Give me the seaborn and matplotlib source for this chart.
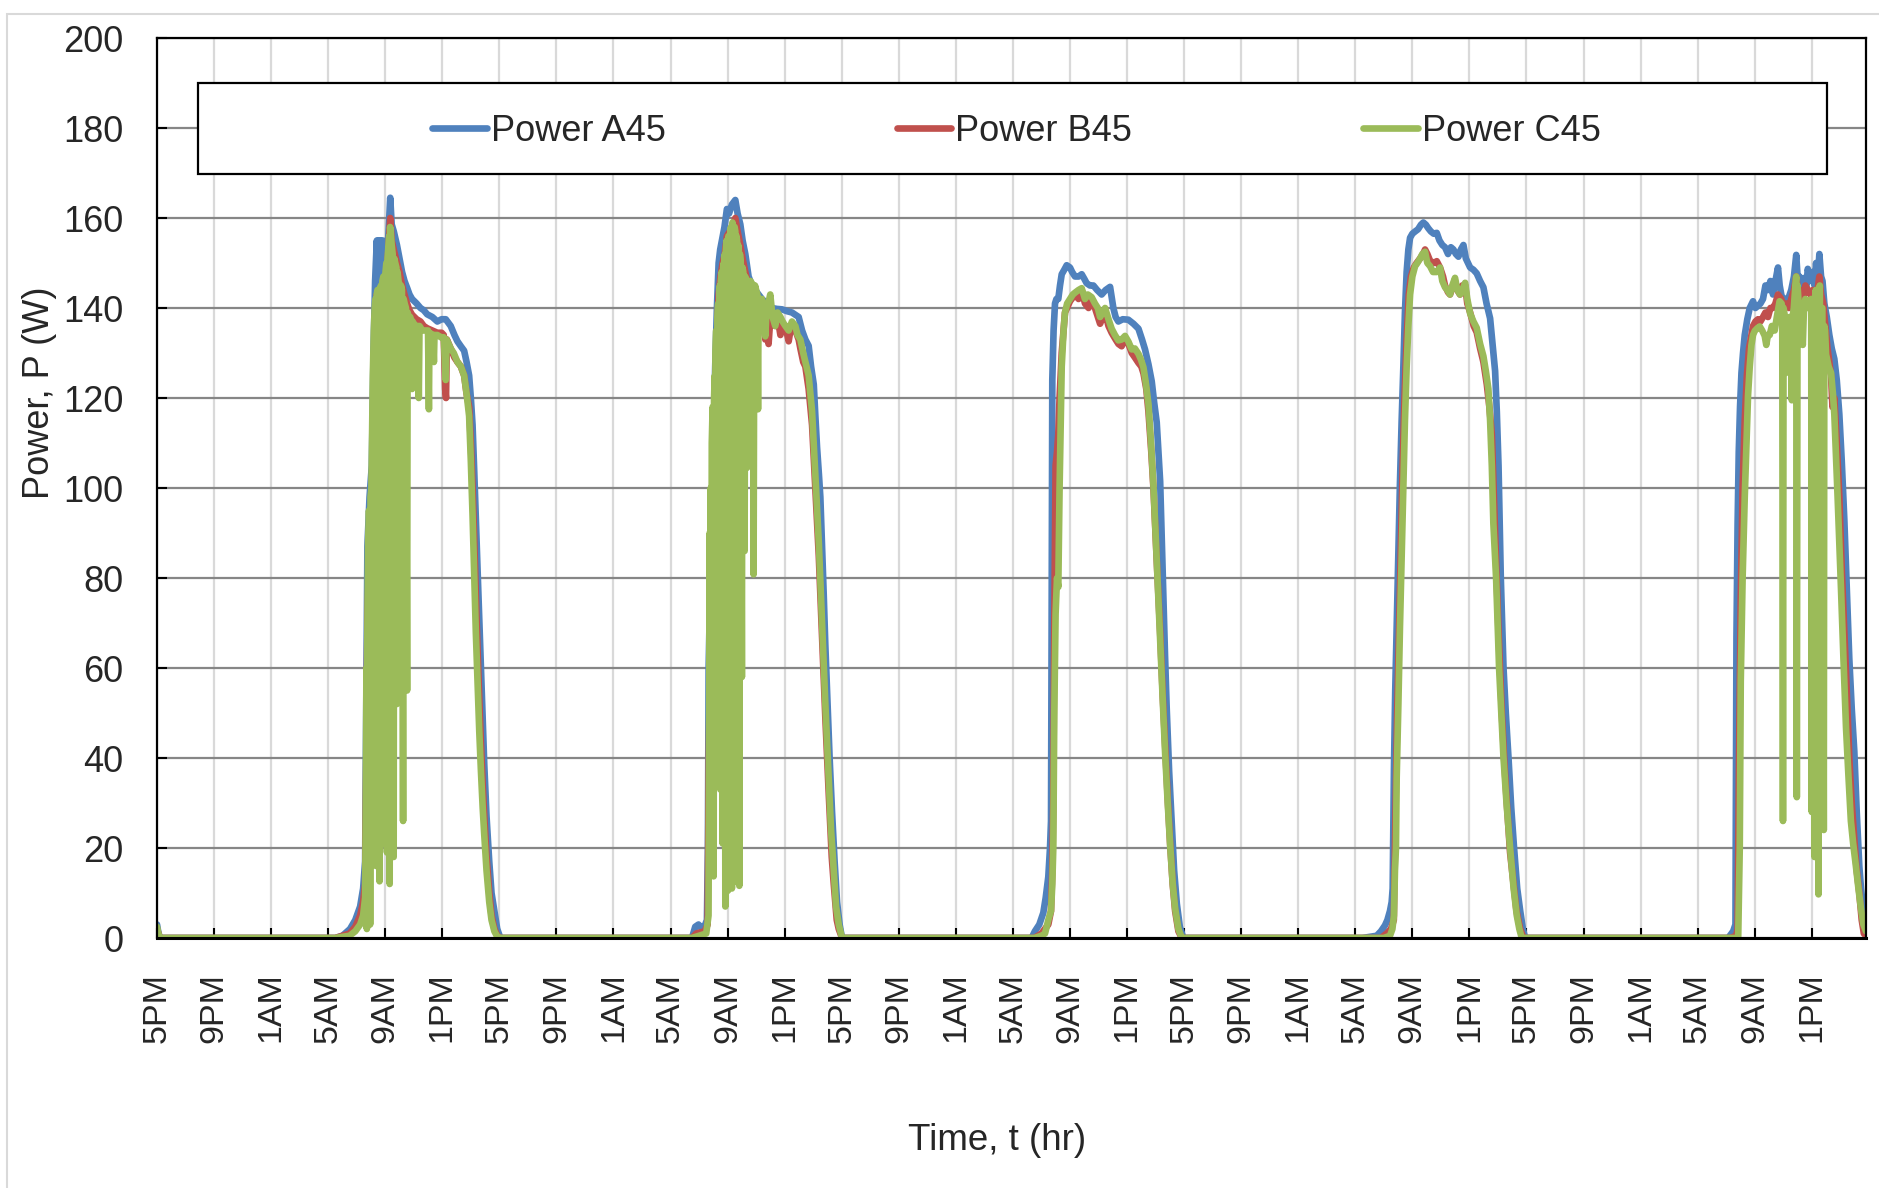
import matplotlib
matplotlib.use("Agg")
import matplotlib.pyplot as plt
from matplotlib.lines import Line2D
from matplotlib.patches import Rectangle
import numpy as np
import pandas as pd
import seaborn as sns

# ---------------------------------------------------------------------------
# Measured panel power, three panels (A, B, C at 45 deg).
# Each list holds (clock hour, watts) readings for one day; day 0 is the
# evening the record starts on (5 PM), days 1-5 follow.
# ---------------------------------------------------------------------------
series_names = ["Power A45", "Power B45", "Power C45"]
series_colors = ["#4F81BD", "#C0504D", "#9BBB59"]

eve_a = [(17.0, 3), (17.08, 1.5), (17.2, 0)]
eve_b = [(17.0, 2), (17.2, 0)]
eve_c = [(17.0, 2.5), (17.1, 1), (17.2, 0)]

day1_a = [(5.5, 0), (6.0, 0.5), (6.53, 2), (6.9, 4), (7.24, 7), (7.45, 11), (7.59, 17), (7.66, 47),
          (7.75, 87), (7.9, 98), (8.06, 105), (8.18, 130), (8.29, 146), (8.41, 155), (8.47, 138),
          (8.53, 155), (8.6, 140), (8.66, 155), (8.72, 142), (8.8, 155), (8.84, 155), (8.95, 150),
          (9.05, 147), (9.2, 155), (9.35, 164.5), (9.45, 158.6), (9.6, 157), (9.82, 154), (10.0, 151),
          (10.18, 148), (10.35, 146), (10.53, 144.5), (10.7, 143), (10.88, 142), (11.2, 141),
          (11.47, 140), (11.7, 139.5), (11.94, 138.6), (12.3, 138), (12.65, 137), (12.95, 137.5),
          (13.24, 137.5), (13.59, 136), (13.85, 134), (14.06, 132.6), (14.3, 131.5), (14.53, 130.5),
          (14.7, 128), (14.88, 125), (15.0, 120), (15.12, 114), (15.24, 103.5), (15.35, 93),
          (15.47, 82), (15.59, 71), (15.71, 60), (15.83, 49), (15.94, 38.6), (16.1, 27), (16.29, 17),
          (16.45, 10), (16.65, 6), (16.85, 2), (17.07, 0)]
day1_b = [(5.5, 0), (6.5, 1), (6.9, 2.5), (7.24, 5), (7.45, 8), (7.59, 12), (7.66, 35), (7.75, 70),
          (7.9, 88), (8.06, 98), (8.18, 120), (8.29, 138), (8.41, 143), (8.6, 144), (8.84, 145),
          (8.95, 145), (9.05, 146), (9.2, 152), (9.35, 160), (9.45, 155), (9.6, 153), (9.82, 150),
          (10.0, 148), (10.18, 145), (10.35, 143), (10.53, 141), (10.7, 139.5), (10.88, 138.5),
          (11.2, 137.5), (11.47, 137), (11.7, 136), (11.94, 135.5), (12.3, 135), (12.65, 134.5),
          (12.95, 134.5), (13.1, 134), (13.2, 122), (13.26, 120), (13.32, 133), (13.59, 131),
          (13.85, 129), (14.06, 128), (14.3, 127), (14.53, 125), (14.7, 121), (14.88, 118),
          (15.0, 110), (15.12, 100), (15.24, 88), (15.35, 76), (15.47, 64), (15.59, 53), (15.71, 43),
          (15.83, 34), (15.94, 27), (16.1, 18), (16.29, 10), (16.45, 5), (16.65, 2), (16.85, 0.5),
          (17.07, 0)]
day1_c = [(5.5, 0), (6.5, 0.5), (6.9, 1.5), (7.24, 3), (7.45, 5), (7.59, 9), (7.64, 30), (7.68, 60),
          (7.71, 2), (7.74, 65), (7.8, 88), (7.86, 95), (7.91, 90), (7.94, 3), (7.97, 98), (8.03, 100),
          (8.08, 112), (8.13, 125), (8.2, 135), (8.26, 140), (8.31, 142), (8.36, 16), (8.4, 143),
          (8.46, 144), (8.52, 140), (8.57, 143), (8.6, 12.6), (8.63, 144), (8.7, 145), (8.76, 21),
          (8.8, 146), (8.87, 147), (8.95, 145), (9.02, 148), (9.08, 150), (9.12, 19), (9.16, 151),
          (9.23, 154), (9.28, 156), (9.31, 12), (9.34, 158), (9.38, 157), (9.45, 154), (9.52, 152),
          (9.59, 18), (9.63, 151), (9.7, 150), (9.78, 149), (9.82, 52), (9.86, 148), (9.93, 146),
          (10.0, 145), (10.06, 60), (10.1, 145), (10.17, 144), (10.25, 26), (10.29, 142),
          (10.36, 141), (10.45, 140), (10.53, 55), (10.57, 139), (10.65, 138), (10.75, 138),
          (10.85, 137), (10.88, 122), (10.92, 137), (11.1, 136), (11.3, 136), (11.35, 120),
          (11.4, 136), (11.6, 135), (11.8, 135), (12.0, 135), (12.06, 117.5), (12.1, 134.5),
          (12.35, 134), (12.41, 128), (12.45, 134), (12.65, 134), (12.9, 133.5), (13.1, 133.5),
          (13.24, 124), (13.3, 133), (13.45, 132), (13.59, 131), (13.8, 130), (14.06, 128),
          (14.3, 127), (14.53, 125), (14.7, 121), (14.88, 116), (15.0, 106), (15.12, 94), (15.24, 80),
          (15.35, 68), (15.47, 57), (15.59, 46), (15.71, 37), (15.83, 29), (15.94, 23), (16.1, 15),
          (16.29, 8), (16.45, 4), (16.65, 1.5), (16.85, 0.3), (17.07, 0)]

day2_a = [(5.5, 0), (6.5, 0), (6.73, 2.5), (6.96, 3), (7.2, 2), (7.43, 3), (7.55, 4), (7.62, 20),
          (7.67, 60), (7.78, 78), (7.9, 90.5), (8.02, 110), (8.13, 127), (8.25, 140), (8.37, 150),
          (8.48, 153), (8.6, 155), (8.78, 158), (8.95, 162), (9.1, 161), (9.3, 163), (9.54, 164),
          (9.7, 161), (9.89, 158.6), (10.05, 155), (10.24, 152), (10.47, 147), (10.71, 145),
          (11.05, 143.5), (11.41, 142), (11.75, 141), (12.11, 140), (12.45, 139.8), (12.81, 139.7),
          (13.15, 139.3), (13.51, 139), (13.75, 138.5), (13.98, 138), (14.22, 135), (14.45, 133),
          (14.68, 131.6), (14.85, 127), (15.04, 123), (15.15, 116), (15.27, 109), (15.4, 103),
          (15.5, 98), (15.62, 87), (15.74, 76), (15.85, 65), (15.97, 55), (16.15, 40), (16.32, 28),
          (16.5, 17), (16.67, 8), (16.85, 3), (17.02, 0)]
day2_b = [(5.5, 0), (6.5, 0), (6.8, 1), (7.4, 1.5), (7.6, 3), (7.68, 40), (7.78, 65), (7.9, 85),
          (8.02, 105), (8.13, 120), (8.25, 133), (8.37, 143), (8.5, 147), (8.65, 150), (8.8, 152),
          (8.95, 156), (9.15, 157), (9.35, 158), (9.54, 160), (9.7, 157), (9.89, 154), (10.05, 151),
          (10.24, 148), (10.47, 145), (10.71, 143), (10.82, 120), (10.9, 143), (11.13, 141),
          (11.41, 140), (11.64, 133), (11.75, 138), (11.87, 132), (12.0, 138), (12.34, 136),
          (12.55, 137), (12.7, 134), (12.85, 136), (13.05, 136), (13.28, 132.6), (13.4, 135),
          (13.51, 136), (13.75, 135), (13.98, 133), (14.1, 131), (14.3, 128), (14.45, 127),
          (14.68, 122), (14.92, 114), (15.15, 100), (15.39, 85), (15.62, 67), (15.85, 49),
          (16.09, 32), (16.3, 18), (16.44, 12), (16.65, 4), (16.79, 2), (17.02, 0)]
day2_c = [(5.5, 0), (6.5, 0), (7.0, 0.5), (7.5, 1), (7.66, 5), (7.7, 40), (7.74, 90), (7.78, 60),
          (7.82, 100), (7.85, 30), (7.89, 110), (7.95, 118), (8.0, 60), (8.02, 13.7), (8.05, 120),
          (8.1, 125), (8.12, 55), (8.15, 130), (8.2, 135), (8.25, 43), (8.29, 138), (8.34, 141),
          (8.38, 60), (8.42, 143), (8.46, 145), (8.49, 33), (8.53, 146), (8.58, 148), (8.62, 120),
          (8.65, 21), (8.69, 149), (8.73, 150), (8.75, 40), (8.78, 151), (8.81, 152), (8.84, 7),
          (8.88, 153), (8.93, 155), (8.97, 150), (9.02, 10.5), (9.06, 156), (9.11, 155), (9.15, 50),
          (9.19, 157), (9.24, 158), (9.3, 11), (9.34, 159), (9.38, 158), (9.45, 35), (9.49, 158),
          (9.54, 157), (9.58, 12.6), (9.62, 156), (9.66, 155), (9.7, 60), (9.74, 154), (9.78, 153),
          (9.82, 11.6), (9.86, 152), (9.92, 150), (10.0, 58), (10.04, 149), (10.1, 148), (10.19, 86),
          (10.23, 147), (10.3, 146), (10.36, 104.5), (10.4, 146), (10.5, 146), (10.6, 146),
          (10.7, 145.5), (10.78, 145), (10.82, 80.8), (10.86, 130), (10.92, 145), (11.0, 144),
          (11.08, 143), (11.13, 117.5), (11.17, 142), (11.3, 142), (11.41, 142), (11.55, 138),
          (11.64, 133.7), (11.72, 139), (11.85, 141), (11.99, 143), (12.15, 138), (12.34, 136),
          (12.5, 139), (12.7, 138), (12.85, 137), (13.05, 136), (13.28, 135), (13.51, 137),
          (13.75, 136), (13.9, 134), (14.1, 133), (14.3, 130), (14.45, 128), (14.68, 125),
          (14.92, 117), (15.15, 103), (15.39, 88), (15.62, 70), (15.85, 52), (16.09, 35),
          (16.25, 24), (16.44, 15), (16.6, 7), (16.79, 3), (17.02, 0)]

day3_a = [(5.5, 0), (6.31, 0), (6.54, 1.5), (6.85, 3), (7.13, 5.6), (7.3, 9), (7.48, 13.6), (7.6, 20),
          (7.67, 26), (7.71, 66), (7.76, 124), (7.85, 135), (7.95, 141), (8.05, 142), (8.18, 142),
          (8.3, 145), (8.42, 147.5), (8.6, 148.5), (8.77, 149.5), (9.0, 149), (9.15, 148),
          (9.35, 147), (9.6, 147), (9.82, 147.5), (10.0, 146.5), (10.17, 145.5), (10.4, 145),
          (10.64, 145), (10.9, 144), (11.22, 143), (11.5, 144), (11.81, 144.7), (12.04, 140),
          (12.2, 138), (12.39, 137), (12.7, 137.5), (13.09, 137.4), (13.45, 136.5), (13.8, 135.4),
          (14.05, 133), (14.26, 130.8), (14.5, 127.5), (14.73, 123.7), (14.9, 119), (15.08, 114.6),
          (15.2, 108), (15.32, 101.5), (15.43, 89), (15.55, 76), (15.66, 63), (15.78, 51),
          (15.95, 37), (16.13, 25.8), (16.3, 15), (16.49, 7.6), (16.7, 2.5), (16.95, 0)]
day3_b = [(5.5, 0), (6.5, 0), (7.0, 1), (7.48, 3), (7.67, 6), (7.76, 15), (7.83, 30), (7.9, 70),
          (7.99, 105), (8.09, 108), (8.18, 112), (8.27, 120), (8.42, 130), (8.65, 139), (9.0, 141.5),
          (9.35, 143), (9.6, 142), (9.82, 144), (10.05, 141), (10.3, 140), (10.52, 142), (10.75, 140),
          (11.11, 136.5), (11.3, 138), (11.46, 139), (11.7, 136), (11.92, 134.5), (12.2, 133),
          (12.4, 132), (12.62, 131.5), (12.86, 133), (13.1, 132), (13.33, 130), (13.55, 129),
          (13.8, 127.8), (14.0, 127), (14.15, 125.5), (14.35, 122), (14.5, 117), (14.7, 108),
          (14.85, 100), (15.08, 84), (15.32, 68), (15.5, 54), (15.67, 43), (15.85, 31), (16.02, 21),
          (16.2, 12), (16.37, 6), (16.6, 1.5), (16.84, 0)]
day3_c = [(5.5, 0), (6.5, 0), (7.0, 0.5), (7.25, 1), (7.48, 4), (7.67, 6), (7.76, 12), (7.83, 20),
          (7.9, 50), (7.99, 72), (8.09, 80), (8.18, 78), (8.27, 100), (8.35, 115), (8.42, 127),
          (8.55, 135), (8.65, 139), (8.8, 141), (9.0, 142), (9.2, 143), (9.35, 143.4), (9.6, 144),
          (9.82, 144.4), (10.05, 142), (10.25, 143), (10.52, 142.4), (10.75, 141), (10.95, 140),
          (11.11, 138), (11.3, 139), (11.46, 140), (11.7, 137.5), (11.92, 135.4), (12.15, 134),
          (12.39, 132.8), (12.62, 133), (12.86, 133.8), (13.1, 132.5), (13.33, 130.8), (13.55, 131),
          (13.8, 129.8), (13.98, 128.5), (14.15, 126.8), (14.33, 123), (14.5, 118.7), (14.68, 110),
          (14.85, 100.5), (14.97, 92), (15.08, 84), (15.2, 75), (15.32, 66), (15.5, 53), (15.67, 41),
          (15.85, 30), (16.02, 20.7), (16.2, 12), (16.37, 6.6), (16.6, 2), (16.84, 0)]

day4_a = [(5.5, 0), (6.5, 0.5), (6.8, 1.5), (7.08, 2.8), (7.25, 4), (7.43, 6), (7.55, 8), (7.62, 11),
          (7.71, 37.6), (7.8, 55), (7.9, 69), (8.02, 85), (8.13, 101), (8.25, 115), (8.37, 127),
          (8.48, 139), (8.6, 148), (8.72, 153), (8.84, 155.6), (9.0, 156.5), (9.19, 157),
          (9.4, 157.5), (9.6, 158.5), (9.77, 159), (9.95, 158.5), (10.12, 157.7), (10.3, 157),
          (10.5, 156.5), (10.71, 156.7), (10.9, 155), (11.1, 154), (11.29, 153.5), (11.5, 152),
          (11.7, 153.5), (11.88, 153), (12.05, 152), (12.23, 151.4), (12.4, 153), (12.58, 154),
          (12.75, 151), (12.9, 150), (13.05, 149), (13.28, 148.5), (13.51, 147.7), (13.75, 146),
          (13.98, 144.6), (14.2, 141), (14.45, 137.7), (14.62, 132), (14.8, 126), (14.92, 117),
          (15.04, 105), (15.2, 80), (15.39, 60), (15.55, 50), (15.74, 40), (15.93, 29), (16.13, 20),
          (16.35, 11), (16.56, 6), (16.75, 2), (16.91, 0)]
day4_b = [(5.5, 0), (6.8, 0), (7.2, 1), (7.5, 2), (7.7, 4), (7.78, 20), (7.85, 34), (7.95, 52),
          (8.08, 70), (8.2, 88), (8.32, 105), (8.45, 120), (8.6, 133), (8.75, 143), (8.9, 147),
          (9.1, 149), (9.3, 150), (9.54, 151), (9.75, 152), (9.89, 153), (10.05, 152), (10.24, 150.5),
          (10.5, 150), (10.71, 150.4), (10.94, 149), (11.15, 147), (11.29, 145), (11.5, 143.5),
          (11.64, 143), (11.85, 145), (11.99, 146), (12.15, 144), (12.34, 143), (12.5, 145),
          (12.7, 145), (12.85, 141), (13.05, 139), (13.3, 136), (13.51, 134.6), (13.75, 131),
          (13.98, 128), (14.22, 123), (14.4, 118), (14.57, 112), (14.8, 90), (15.04, 68),
          (15.27, 50), (15.45, 39), (15.62, 30), (15.85, 19), (16.09, 12), (16.3, 6), (16.56, 2),
          (16.79, 0)]
day4_c = [(5.5, 0), (7.0, 0), (7.43, 0.5), (7.6, 2), (7.71, 5), (7.78, 15), (7.85, 20), (7.9, 35.5),
          (8.02, 52), (8.13, 69), (8.25, 85), (8.37, 101), (8.48, 115), (8.6, 127), (8.72, 136),
          (8.84, 143), (9.0, 147), (9.19, 149.3), (9.35, 150), (9.54, 151), (9.7, 152),
          (9.89, 152.5), (10.05, 150), (10.24, 149.3), (10.45, 148), (10.71, 148), (10.94, 149),
          (11.1, 146), (11.29, 144.6), (11.45, 144), (11.64, 143), (11.8, 145), (11.99, 146.7),
          (12.15, 144), (12.34, 143), (12.5, 144), (12.7, 145.6), (12.85, 142), (13.05, 138.8),
          (13.28, 137), (13.51, 135.6), (13.75, 132), (13.98, 129.3), (14.15, 126), (14.33, 122),
          (14.45, 115), (14.57, 105), (14.68, 92), (14.87, 80), (15.08, 60), (15.25, 49),
          (15.39, 40), (15.6, 30), (15.85, 20), (16.1, 11), (16.32, 5), (16.5, 2), (16.67, 0)]

day5_a = [(5.5, 0), (7.14, 0), (7.49, 1.5), (7.65, 3), (7.72, 67), (7.8, 92), (7.88, 108), (7.97, 118),
          (8.07, 125.6), (8.18, 130), (8.3, 134), (8.48, 137.5), (8.65, 140), (8.88, 141.5),
          (9.05, 140), (9.23, 140.5), (9.4, 141), (9.58, 142), (9.75, 145), (9.93, 144), (10.1, 146),
          (10.28, 143), (10.45, 146), (10.63, 149), (10.75, 145), (10.86, 143), (11.05, 141),
          (11.21, 142), (11.4, 142.5), (11.56, 144), (11.75, 147), (11.91, 151.8), (12.02, 146),
          (12.14, 147), (12.3, 145), (12.49, 146.7), (12.6, 144), (12.72, 148.7), (12.9, 146),
          (13.07, 148), (13.2, 145), (13.3, 150), (13.42, 146), (13.53, 152), (13.65, 147),
          (13.75, 146), (13.88, 141), (14.05, 138), (14.23, 134), (14.4, 131), (14.58, 128.7),
          (14.75, 124), (14.93, 116.4), (15.1, 106), (15.28, 93), (15.45, 78), (15.63, 62),
          (15.8, 51), (15.98, 41.5), (16.15, 28), (16.33, 16), (16.45, 11), (16.56, 7.7),
          (16.7, 4), (16.8, 2.6)]
day5_b = [(5.5, 0), (7.3, 0), (7.7, 0.5), (7.8, 2), (7.9, 40), (8.02, 75), (8.15, 100), (8.3, 115),
          (8.45, 125), (8.6, 131), (8.77, 134), (8.88, 136), (9.05, 137), (9.23, 137.5), (9.4, 137),
          (9.58, 138), (9.75, 139), (9.93, 138), (10.1, 140), (10.28, 140), (10.45, 141),
          (10.63, 143), (10.86, 142), (11.05, 140), (11.21, 141), (11.4, 140), (11.56, 142),
          (11.75, 144), (11.91, 147), (12.05, 143), (12.2, 144), (12.4, 142), (12.55, 145),
          (12.72, 144), (12.9, 143), (13.07, 144), (13.25, 142), (13.4, 144), (13.53, 147),
          (13.65, 143), (13.8, 141), (13.95, 136), (14.1, 131), (14.23, 128), (14.35, 125),
          (14.45, 118), (14.58, 120), (14.75, 110), (14.93, 98), (15.1, 82), (15.28, 68),
          (15.45, 55), (15.63, 40), (15.8, 30), (15.98, 22), (16.15, 15), (16.33, 10), (16.5, 4),
          (16.65, 1), (16.8, 0.5)]
day5_c = [(5.5, 0), (7.5, 0), (7.84, 0), (7.95, 20), (8.02, 57), (8.15, 80), (8.3, 98), (8.42, 110),
          (8.53, 120.5), (8.65, 127), (8.77, 131.8), (8.88, 134), (9.0, 134.9), (9.18, 135.5),
          (9.35, 135.9), (9.52, 135), (9.7, 133.8), (9.81, 131.8), (9.92, 134), (10.05, 134),
          (10.2, 136), (10.4, 135), (10.55, 138), (10.74, 141.5), (10.88, 141), (10.93, 140),
          (10.98, 26), (11.02, 140), (11.12, 138), (11.21, 125.6), (11.3, 137), (11.44, 138),
          (11.52, 136), (11.6, 119.5), (11.66, 138), (11.74, 140), (11.85, 145), (11.91, 147),
          (11.95, 31.3), (12.0, 145), (12.1, 140), (12.22, 138), (12.37, 131.8), (12.45, 140),
          (12.55, 142), (12.72, 140), (12.85, 141), (12.96, 142), (13.0, 28), (13.04, 138),
          (13.09, 140), (13.14, 142), (13.19, 18), (13.23, 140), (13.28, 144), (13.33, 140),
          (13.37, 30), (13.41, 138), (13.44, 142), (13.47, 9.7), (13.51, 140), (13.56, 145),
          (13.6, 120), (13.65, 40), (13.69, 140), (13.74, 140), (13.79, 100), (13.84, 24),
          (13.88, 136), (13.93, 135), (14.0, 129.7), (14.18, 127), (14.35, 125.6), (14.48, 121),
          (14.58, 116.4), (14.7, 107), (14.81, 98), (14.93, 88), (15.05, 77.4), (15.22, 62),
          (15.4, 46.7), (15.57, 36), (15.74, 26), (15.9, 21), (16.09, 16), (16.27, 11),
          (16.44, 6.7), (16.62, 3), (16.8, 1.5)]

tick_hours = list(range(0, 117, 4))
tick_labels = ["5PM", "9PM", "1AM", "5AM", "9AM", "1PM"] * 5

# ---------------------------------------------------------------------------
# Long-format table: elapsed hours since 5 PM on the first evening
# ---------------------------------------------------------------------------
days_per_series = {
    "Power A45": [eve_a, day1_a, day2_a, day3_a, day4_a, day5_a],
    "Power B45": [eve_b, day1_b, day2_b, day3_b, day4_b, day5_b],
    "Power C45": [eve_c, day1_c, day2_c, day3_c, day4_c, day5_c],
}
rows = []
for name in series_names:
    for day, readings in enumerate(days_per_series[name]):
        for clock, watts in readings:
            rows.append((24 * day + clock - 17.0, watts, name))
df = pd.DataFrame(rows, columns=["Time", "Power", "Series"])

# ---------------------------------------------------------------------------
# Figure
# ---------------------------------------------------------------------------
sns.set_style("white")
plt.rcParams["font.family"] = ["Liberation Sans", "DejaVu Sans"]

W, H = 1879, 1188
LW = 4.8
fig = plt.figure(figsize=(W / 100, H / 100), dpi=100)
fig.patch.set_facecolor("white")
ax = fig.add_axes([157 / W, 1 - 938 / H, 1709 / W, 900 / H])

sns.lineplot(data=df, x="Time", y="Power", hue="Series", hue_order=series_names,
             palette=series_colors, estimator=None, sort=False, legend=False,
             lw=LW, ax=ax)
for line in ax.lines:
    line.set_solid_joinstyle("round")
    line.set_solid_capstyle("round")

ax.set_xlim(0, 119.8)
ax.set_ylim(0, 200)
ax.set_yticks(np.arange(0, 201, 20))
ax.set_xticks(tick_hours)
ax.set_xticklabels(tick_labels, rotation=90)

ax.set_axisbelow(True)
ax.yaxis.grid(True, color="#868686", lw=1.6)
ax.xaxis.grid(True, color="#d9d9d9", lw=1.6)

for side, spine in ax.spines.items():
    spine.set_visible(True)
    spine.set_color("black")
    spine.set_linewidth(1.6)
ax.spines["bottom"].set_linewidth(2.2)

ax.tick_params(axis="y", direction="in", length=7, width=1.5, color="black",
               labelsize=26, pad=24, left=True)
ax.tick_params(axis="x", direction="in", length=7, width=1.5, color="black",
               labelsize=24.5, pad=25, bottom=True)

ax.set_xlabel("Time, t (hr)", fontsize=26.5)
ax.set_ylabel("Power, P (W)", fontsize=26)
ax.xaxis.set_label_coords(0.4915, -0.2056)
ax.yaxis.set_label_coords(-0.0585, 0.606)

# Legend box spanning most of the plot width, entries centred inside it
ax.add_patch(Rectangle((0.024, 0.849), 0.953, 0.101, transform=ax.transAxes,
                       facecolor="white", edgecolor="black", lw=1.6, zorder=5))
handles = [Line2D([], [], color=c, lw=LW, solid_capstyle="round") for c in series_colors]
leg = ax.legend(handles, series_names, ncol=3, frameon=False, loc="center",
                bbox_to_anchor=(0.503, 0.896), fontsize=26, handlelength=1.5,
                handletextpad=0.12, columnspacing=6.4)
leg.set_zorder(6)

# Thin light frame around the chart area
fig.add_artist(Rectangle((7 / W, -0.1), 1.2, 1 - 14 / H + 0.1, transform=fig.transFigure,
                         fill=False, edgecolor="#d9d9d9", lw=1.5))

fig.savefig("out.png", dpi=100)
